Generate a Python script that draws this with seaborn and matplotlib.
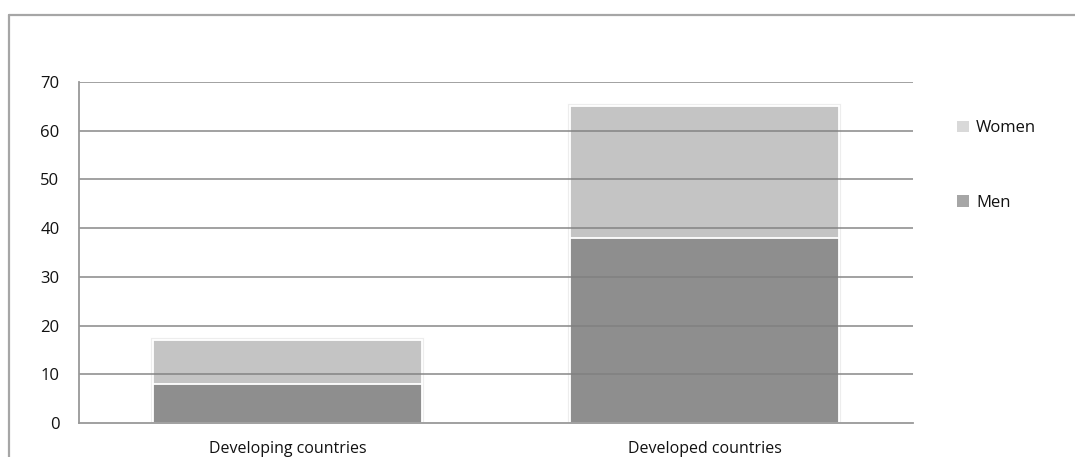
import matplotlib
matplotlib.use("Agg")
import matplotlib.pyplot as plt
import matplotlib.patheffects as pe
from matplotlib.lines import Line2D
from matplotlib.patches import Patch
import pandas as pd
import seaborn as sns

categories = ["Developing countries", "Developed countries"]
men = [8, 38]
women = [9, 27]
y_ticks = [0, 10, 20, 30, 40, 50, 60, 70]

men_color = "#8e8e8e"
women_color = "#c4c4c4"
grid_color = "#808080"
text_color = "#111111"

sns.set_theme(style="white")
plt.rcParams["font.family"] = ["Open Sans", "DejaVu Sans"]

df = pd.DataFrame({
    "category": categories,
    "Men": men,
    "Women": women,
})
df["Total"] = df["Men"] + df["Women"]

fig = plt.figure(figsize=(10.75, 4.57), dpi=100)
ax = fig.add_axes([79 / 1075, 1 - 423 / 457, (913 - 79) / 1075, (423 - 82) / 457])

# stacked bars: full height in the women colour, men segment drawn over it
sns.barplot(data=df, x="category", y="Total", color=women_color, saturation=1,
            width=0.645, edgecolor="white", linewidth=1.3, ax=ax, zorder=2)
n_total = len(ax.patches)
sns.barplot(data=df, x="category", y="Men", color=men_color, saturation=1,
            width=0.645, edgecolor="white", linewidth=1.3, ax=ax, zorder=2)
# soft halo around each whole stacked column
for p in ax.patches[:n_total]:
    p.set_path_effects([pe.withStroke(linewidth=3, foreground="#ededed")])

ax.set_ylim(0, 70)
ax.set_xlim(-0.5, 1.5)
ax.set_yticks(y_ticks)
ax.set_xlabel("")
ax.set_ylabel("")

# horizontal gridlines sit on top of the bars
for v in y_ticks[1:]:
    ax.axhline(v, color=grid_color, alpha=0.8, lw=1.3, zorder=3)

for side in ["top", "right"]:
    ax.spines[side].set_visible(False)
for side in ["left", "bottom"]:
    ax.spines[side].set_color("#999999")
    ax.spines[side].set_linewidth(1.3)
    ax.spines[side].set_zorder(4)

ax.tick_params(axis="y", length=0, pad=14, labelsize=12, labelcolor=text_color)
ax.tick_params(axis="x", length=0, pad=13, labelsize=11.5, labelcolor=text_color)

# outer chart frame
fig.add_artist(Line2D([9 / 1075, 1.0], [1 - 15 / 457, 1 - 15 / 457],
                      color="#a6a6a6", lw=1.6, transform=fig.transFigure))
fig.add_artist(Line2D([9 / 1075, 9 / 1075], [0.0, 1 - 15 / 457],
                      color="#a6a6a6", lw=1.6, transform=fig.transFigure))

handles = [Patch(facecolor="#d9d9d9", edgecolor="none", label="Women"),
           Patch(facecolor="#a6a6a6", edgecolor="none", label="Men")]
fig.legend(handles=handles, loc="center left", bbox_to_anchor=(957 / 1075, 1 - 165.5 / 457),
           frameon=False, fontsize=12, labelcolor=text_color, handlelength=0.72,
           handleheight=0.72, handletextpad=0.42, labelspacing=3.5, borderpad=0,
           borderaxespad=0)

fig.savefig("out.png", dpi=100, facecolor="white")
